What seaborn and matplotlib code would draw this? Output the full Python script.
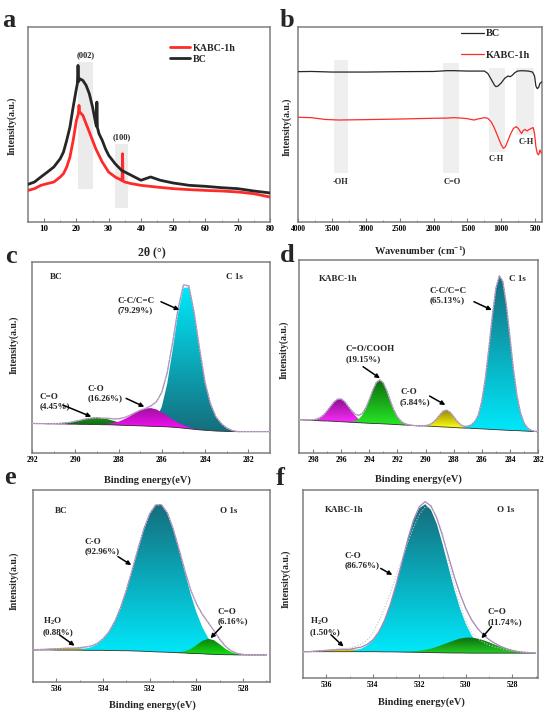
import numpy as np
import matplotlib
matplotlib.use("Agg")
import matplotlib.pyplot as plt
import seaborn as sns
from matplotlib.colors import LinearSegmentedColormap
from matplotlib.patches import Rectangle
from matplotlib.path import Path
from matplotlib.ticker import MultipleLocator, AutoMinorLocator, NullLocator

# ---------------- (a) XRD ----------------
XRD_BC_2THETA = [5, 7, 9, 11, 13, 15, 16, 17, 18, 19, 20, 20.3, 20.5, 20.7, 21, 22, 23, 24, 25, 26,
                 26.2, 26.35, 26.5, 27, 28, 29, 30, 32, 34, 36, 38, 40, 43, 46, 50, 55, 60, 65, 70, 75, 80]
XRD_BC_INT = [19.3, 20.5, 23.1, 25.6, 28.2, 32.5, 35.9, 41.9, 48.7, 59.0, 68.4, 71.0, 80.3, 72.0, 73.5,
              72.6, 70.1, 65.8, 59.0, 50.4, 49.0, 61.5, 48.5, 45.3, 41.9, 37.6, 34.2, 29.9, 26.5, 24.8,
              23.1, 21.4, 23.1, 21.4, 20.0, 18.8, 18.3, 17.6, 17.1, 15.9, 14.9]
XRD_K_2THETA = [5, 7, 9, 11, 13, 15, 16, 17, 18, 19, 20, 20.6, 20.8, 21.0, 22, 23, 24, 25, 26, 27,
                28, 29, 30, 32, 34, 34.15, 34.3, 34.45, 35, 37, 40, 45, 50, 55, 60, 65, 70, 75, 80]
XRD_K_INT = [16.2, 17.1, 18.8, 19.7, 20.5, 23.1, 24.8, 28.2, 33.3, 41.9, 52.1, 55.5, 59.8, 56.4, 54.7,
             50.4, 46.2, 41.9, 37.6, 34.2, 30.8, 28.2, 25.6, 23.1, 21.4, 21.2, 35.0, 21.0, 20.5, 19.7,
             18.8, 17.9, 17.1, 16.6, 16.2, 15.9, 15.4, 14.5, 12.8]
XRD_PEAKS = ["(002)", "(100)"]
XRD_BAND_LO = [20.5, 31.9]
XRD_BAND_HI = [25.2, 36.1]
XRD_BAND_BOTTOM = [17.1, 7.4]
XRD_BAND_TOP = [82.1, 39.8]

# ---------------- (b) FTIR ----------------
FTIR_BC_W = [4000, 3800, 3500, 3000, 2500, 2000, 1800, 1700, 1500, 1300, 1250, 1200, 1150, 1100, 1080,
             1050, 1000, 950, 900, 870, 840, 800, 760, 700, 600, 540, 510, 490, 470, 450, 430, 400]
FTIR_BC_T = [77.1, 77.2, 76.9, 76.9, 77.1, 77.2, 77.6, 77.6, 77.4, 77.4, 77.4, 76.2, 73.2, 70.1, 69.4,
             69.7, 71.4, 73.7, 74.9, 74.5, 75.2, 76.6, 77.4, 77.6, 77.4, 76.9, 74.9, 69.7, 68.4, 69.0,
             71.1, 71.9]
FTIR_K_W = [4000, 3800, 3600, 3400, 3000, 2500, 2000, 1800, 1700, 1600, 1500, 1450, 1400, 1350, 1250,
            1200, 1150, 1100, 1050, 1000, 970, 940, 900, 860, 820, 780, 750, 720, 700, 680, 650, 620,
            600, 560, 530, 510, 490, 470, 450, 430, 410]
FTIR_K_T = [53.7, 53.5, 52.6, 52.3, 52.5, 52.8, 53.2, 53.3, 53.5, 53.3, 53.0, 52.6, 52.3, 52.8, 53.5,
            53.2, 51.4, 48.0, 43.7, 39.5, 37.8, 38.6, 42.0, 45.4, 48.0, 48.9, 48.0, 46.3, 45.4, 46.8,
            47.5, 46.7, 47.2, 48.0, 48.4, 45.4, 38.6, 35.2, 34.4, 36.9, 35.2]
FTIR_BANDS = ["-OH", "C=O", "C-H", "C-H"]
FTIR_BAND_LO = [3255, 1618, 943, 524]
FTIR_BAND_HI = [3472, 1865, 1180, 780]
FTIR_BAND_BOTTOM = [25.3, 25.3, 36.0, 44.5]
FTIR_BAND_TOP = [83.1, 81.7, 78.8, 78.8]

# ---------------- (c) C 1s, BC ----------------
XPS_C_ENERGY = np.linspace(292, 281, 45)
XPS_C_BG = [15.5, 15.4, 15.4, 15.3, 15.3, 15.2, 15.2, 15.1, 15.1, 15.0, 15.0, 14.9, 14.9, 14.8, 14.8,
            14.7, 14.6, 14.5, 14.4, 14.3, 14.2, 14.1, 14.0, 13.9, 13.8, 13.7, 13.5, 13.3, 13.0, 12.7,
            12.4, 12.1, 11.9, 11.7, 11.5, 11.4, 11.3, 11.2, 11.2, 11.2, 11.2, 11.2, 11.2, 11.2, 11.2]
XPS_C_CO2 = [0] * 4 + [0.1, 0.25, 0.5, 0.9, 1.5, 2.2, 2.9, 3.4, 3.6, 3.4, 2.9, 2.2, 1.5, 0.9, 0.5,
                       0.25, 0.1] + [0] * 24
XPS_C_CO = [0] * 14 + [0.5, 1.0, 1.8, 3.1, 4.7, 6.5, 8.1, 9.2, 9.5, 8.9, 7.5, 5.8, 4.0, 2.5, 1.5, 0.8,
                       0.35, 0.15] + [0] * 13
XPS_C_CC = [0] * 22 + [1.2, 4.0, 10.5, 22.6, 40.4, 59.7, 73.5, 74.0, 60.4, 42.0, 25.0, 14.0, 7.5, 4.0,
                       1.8, 0.6, 0.0] + [0] * 6

# ---------------- (d) C 1s, KABC-1h ----------------
XPS_D_ENERGY = np.linspace(299, 282, 69)
XPS_D_BG = [17.3, 17.2, 17.1, 17.0, 16.9, 16.8, 16.7, 16.6, 16.6, 16.5, 16.4, 16.3, 16.2, 16.1, 16.0,
            15.9, 15.8, 15.7, 15.6, 15.5, 15.4, 15.3, 15.3, 15.2, 15.1, 15.0, 14.9, 14.8, 14.7, 14.6,
            14.5, 14.4, 14.3, 14.2, 14.1, 14.1, 14.0, 13.9, 13.8, 13.7, 13.6, 13.5, 13.4, 13.3, 13.2,
            13.1, 13.0, 12.9, 12.9, 12.8, 12.7, 12.6, 12.5, 12.4, 12.3, 12.2, 12.1, 12.0, 11.9, 11.8,
            11.7, 11.6, 11.6, 11.5, 11.4, 11.3, 11.2, 11.1, 11.0]
XPS_D_SAT = [0] * 3 + [0.1, 0.3, 0.7, 1.6, 3.1, 5.2, 7.7, 10.1, 11.6, 11.8, 10.5, 8.2, 5.7, 3.5, 1.9,
                       0.9, 0.4, 0.15, 0.05] + [0] * 47
XPS_D_COOH = [0] * 15 + [0.3, 0.75, 1.9, 4.0, 7.4, 12.1, 17.2, 21.2, 22.7, 21.2, 17.2, 12.1, 7.4, 4.0,
                         1.9, 0.75, 0.3, 0.1] + [0] * 36
XPS_D_CO = [0] * 36 + [0.2, 0.7, 1.8, 3.6, 6.0, 8.1, 8.8, 7.8, 5.6, 3.3, 1.6, 0.6, 0.2] + [0] * 20
XPS_D_CC = [0] * 47 + [0.3, 0.8, 1.8, 3.5, 6.9, 14.3, 26.0, 41.7, 58.8, 73.1, 79.9, 77.0, 65.0, 48.6,
                       31.9, 18.4, 9.4, 4.2, 1.7, 0.6, 0.2, 0.05]

# ---------------- (e) O 1s, BC ----------------
XPS_E_ENERGY = np.linspace(537, 527, 41)
XPS_E_BG = [16.7, 16.7, 16.7, 16.7, 16.6, 16.6, 16.6, 16.6, 16.6, 16.5, 16.5, 16.5, 16.5, 16.4, 16.4,
            16.3, 16.3, 16.2, 16.1, 16.0, 15.9, 15.7, 15.6, 15.5, 15.4, 15.2, 15.1, 14.9, 14.8, 14.7,
            14.5, 14.4, 14.3, 14.2, 14.2, 14.1, 14.1, 14.1, 14.1, 14.1, 14.1]
XPS_E_H2O = [0] + [0.2, 0.3, 0.5, 0.7, 0.85, 1.0, 1.0, 0.9, 0.8, 0.6, 0.4, 0.3, 0.15, 0.1] + [0] * 26
XPS_E_CO = [0] * 8 + [0.4, 0.9, 1.7, 3.2, 5.7, 9.5, 15.0, 22.4, 31.7, 42.3, 53.4, 63.8, 71.8, 76.5,
                      76.8, 72.7, 64.5, 53.9, 42.2, 31.0, 21.5, 13.9, 8.5, 4.9, 2.6, 1.3, 0.6, 0.3,
                      0.1] + [0] * 4
XPS_E_CO2 = [0] * 25 + [0.3, 0.9, 2.2, 4.4, 6.7, 8.0, 7.4, 5.3, 3.0, 1.3, 0.45, 0.15, 0.05] + [0] * 3

# ---------------- (f) O 1s, KABC-1h ----------------
XPS_F_ENERGY = np.linspace(537, 527, 41)
XPS_F_BG = [14.0] * 13 + [13.95, 13.9, 13.9, 13.85, 13.8, 13.75, 13.7, 13.65, 13.6, 13.5, 13.45, 13.4,
                          13.35, 13.3, 13.3, 13.25] + [13.2] * 12
XPS_F_H2O = [0] * 2 + [0.3, 0.5, 0.7, 1.0, 1.2, 1.3, 1.25, 1.1, 0.85, 0.6, 0.35, 0.2, 0.1] + [0] * 26
XPS_F_CO = [0] * 9 + [0.8, 1.6, 3.2, 5.9, 10.2, 16.6, 25.2, 35.8, 47.8, 59.7, 69.9, 76.7, 78.8, 75.9,
                      68.5, 57.8, 45.8, 34.0, 23.7, 15.4, 9.4, 5.4, 2.9, 1.4, 0.7, 0.3, 0.1] + [0] * 5
XPS_F_CO2 = [0] * 17 + [0.1, 0.25, 0.5, 0.8, 1.4, 2.1, 3.1, 4.3, 5.5, 6.7, 7.7, 8.2, 8.3, 7.8, 6.9,
                        5.8, 4.5, 3.3, 2.3, 1.5, 0.9, 0.5, 0.3, 0.15]
XPS_F_RAW = [14.0, 14.0, 14.3, 14.5, 14.7, 15.0, 15.3, 15.6, 16.0, 16.8, 18.0, 20.0, 24.0, 30.0, 37.0,
             45.0, 54.0, 63.0, 72.0, 80.0, 87.0, 91.0, 91.0, 86.0, 77.0, 62.0, 50.0, 39.0, 30.0, 24.0,
             21.0, 19.0, 17.5, 16.5, 15.8, 15.0, 14.5, 14.0, 13.7, 13.5, 13.3]

# ---------------- style ----------------
sns.set_theme(style="white")
plt.rcParams["font.family"] = ["Liberation Serif", "DejaVu Serif"]
plt.rcParams["font.weight"] = "bold"
plt.rcParams["mathtext.fontset"] = "custom"
plt.rcParams["mathtext.rm"] = "Liberation Serif:bold"
plt.rcParams["mathtext.it"] = "Liberation Serif:bold"
plt.rcParams["mathtext.bf"] = "Liberation Serif:bold"

FRAME = "#7f7f7f"
CYAN = ("#156d7c", "#00e9fb")
MAGENTA = ("#8c0e8c", "#ff2cff")
GREEN = ("#0c6a0c", "#27e827")
YELLOW = ("#9a8a00", "#ffff14")
ENVELOPE = "#a783b8"
ANNOT_SIZE = 6.5

fig = plt.figure(figsize=(5.5, 7.19), dpi=100)
W, H = 550.0, 719.0


def px_axes(left, top, right, bottom):
    return fig.add_axes([left / W, 1 - bottom / H, (right - left) / W, (bottom - top) / H])


def fig_text(x, y, s, **kw):
    fig.text(x / W, 1 - y / H, s, **kw)


def style_axes(ax, xlim, major, tick_size, pad=2.5):
    ax.set_xlim(*xlim)
    ax.set_ylim(0, 100)
    ax.xaxis.set_major_locator(MultipleLocator(major))
    ax.xaxis.set_minor_locator(AutoMinorLocator(2))
    ax.yaxis.set_major_locator(NullLocator())
    ax.tick_params(axis="x", which="both", direction="in", bottom=True, top=False,
                   color=FRAME, labelcolor="black", labelsize=tick_size, pad=pad)
    ax.tick_params(axis="x", which="major", length=3, width=0.8)
    ax.tick_params(axis="x", which="minor", length=1.6, width=0.6)
    for s in ax.spines.values():
        s.set_color(FRAME)
        s.set_linewidth(1.1)
    ax.set_xlabel("")
    ax.set_ylabel("")


def gradient_fill(ax, x, base, comp, colors, z, reverse=False):
    comp = np.asarray(comp, float)
    upper = base + comp
    mask = comp > 0
    y0, y1 = base[mask].min(), upper[mask].max()
    top_c, bottom_c = colors if not reverse else colors[::-1]
    verts = np.column_stack([np.r_[x, x[::-1]], np.r_[upper, base[::-1]]])
    verts = np.vstack([verts, verts[:1]])
    path = Path(verts, closed=True)
    cmap = LinearSegmentedColormap.from_list("g", [bottom_c, top_c])
    im = ax.imshow(np.linspace(0, 1, 256).reshape(-1, 1), cmap=cmap, aspect="auto",
                   origin="lower", extent=(x.min(), x.max(), y0, y1), zorder=z,
                   interpolation="bilinear")
    im.set_clip_path(path, transform=ax.transData)


def draw_xps(ax, energy, background, comps, raw=None):
    bg = np.asarray(background, float)
    total = bg.copy()
    for z, (values, colors, reverse) in enumerate(comps):
        gradient_fill(ax, energy, bg, values, colors, 2 + z, reverse)
        total += np.asarray(values, float)
    sns.lineplot(x=energy, y=bg, ax=ax, color="#303030", lw=0.6, zorder=6, legend=False, sort=False)
    sns.lineplot(x=energy, y=total, ax=ax, color=ENVELOPE, lw=0.9, zorder=7, legend=False, sort=False)
    raw = total if raw is None else np.asarray(raw, float)
    ax.plot(energy, raw, color="#c4c4c4", ls=(0, (1, 1.6)), lw=0.8, zorder=8)


def annotate(ax, texts, arrows):
    for s, x, y, ha in texts:
        ax.text(x, y, s, ha=ha, va="center", fontsize=ANNOT_SIZE, linespacing=1.25, zorder=10)
    for (x0, y0), (x1, y1) in arrows:
        ax.annotate("", xy=(x1, y1), xytext=(x0, y0), zorder=10,
                    arrowprops=dict(arrowstyle="-|>", color="black", lw=1.1, mutation_scale=6,
                                    shrinkA=0, shrinkB=0))


# ---- panel a ----
ax = px_axes(28, 27, 270, 222)
for lo, hi, b, t in zip(XRD_BAND_LO, XRD_BAND_HI, XRD_BAND_BOTTOM, XRD_BAND_TOP):
    ax.add_patch(Rectangle((lo, b), hi - lo, t - b, color="#e6e6e6", alpha=0.8, lw=0, zorder=1))
sns.lineplot(x=XRD_K_2THETA, y=XRD_K_INT, ax=ax, color="#ff2a2a", lw=2.0, label="KABC-1h",
             sort=False, zorder=3)
sns.lineplot(x=XRD_BC_2THETA, y=XRD_BC_INT, ax=ax, color="#262626", lw=2.0, label="BC",
             sort=False, zorder=4)
for name, lo, hi, t in zip(XRD_PEAKS, XRD_BAND_LO, XRD_BAND_HI, XRD_BAND_TOP):
    ax.text((lo + hi) / 2, t + 3.6, name, ha="center", va="center", fontsize=6)
h, l = ax.get_legend_handles_labels()
ax.legend(h, l, loc="upper left", bbox_to_anchor=(0.585, 0.915), frameon=False, fontsize=7.2,
          handlelength=2.0, handletextpad=0.35, labelspacing=0.2, borderpad=0, borderaxespad=0)
style_axes(ax, (5, 80), 10, 6.5)

# ---- panel b ----
ax = px_axes(298, 27, 542, 222)
for lo, hi, b, t in zip(FTIR_BAND_LO, FTIR_BAND_HI, FTIR_BAND_BOTTOM, FTIR_BAND_TOP):
    ax.add_patch(Rectangle((lo, b), hi - lo, t - b, color="#ececec", alpha=0.8, lw=0, zorder=1))
sns.lineplot(x=FTIR_BC_W, y=FTIR_BC_T, ax=ax, color="#262626", lw=0.9, label="BC", sort=False, zorder=3)
sns.lineplot(x=FTIR_K_W, y=FTIR_K_T, ax=ax, color="#ff2a2a", lw=0.9, label="KABC-1h", sort=False, zorder=3)
for name, (x, y) in zip(FTIR_BANDS, [(3369, 20.7), (1727, 20.7), (1076, 32.5), (627, 41.2)]):
    ax.text(x, y, name, ha="center", va="center", fontsize=6)
h, l = ax.get_legend_handles_labels()
ax.legend(h, l, loc="upper left", bbox_to_anchor=(0.668, 0.99), frameon=False, fontsize=7.5,
          handlelength=2.2, handletextpad=0.15, labelspacing=1.15, borderpad=0, borderaxespad=0)
style_axes(ax, (4000, 400), 500, 5.5, pad=2)

# ---- panel c ----
ax = px_axes(32, 262, 270, 453)
draw_xps(ax, XPS_C_ENERGY, XPS_C_BG, [
    (XPS_C_CC, CYAN, True),
    (XPS_C_CO2, (GREEN[0], "#1f8f1f"), True),
    (XPS_C_CO, ("#a010a0", "#ff10ff"), False),
])
annotate(ax,
         [("BC", 290.88, 92.0, "center"), ("C 1s", 282.66, 92.0, "center"),
          ("C-C/C=C\n(79.29%)", 288.05, 77.0, "left"),
          ("C-O\n(16.26%)", 289.43, 31.2, "left"),
          ("C=O\n(4.45%)", 291.67, 26.9, "left")],
         [((286.04, 79.2), (285.19, 74.9)), ((287.65, 28.6), (286.81, 24.2)),
          ((290.57, 25.1), (289.26, 19.0))])
style_axes(ax, (292, 281), 2, 5.5)

# ---- panel d ----
ax = px_axes(299, 260, 538, 453)
draw_xps(ax, XPS_D_ENERGY, XPS_D_BG, [
    (XPS_D_SAT, MAGENTA, False),
    (XPS_D_COOH, GREEN, False),
    (XPS_D_CO, YELLOW, False),
    (XPS_D_CC, CYAN, False),
])
annotate(ax,
         [("KABC-1h", 297.61, 90.2, "left"), ("C 1s", 283.48, 90.2, "center"),
          ("C-C/C=C\n(65.13%)", 289.73, 81.6, "left"),
          ("C=O/COOH\n(19.15%)", 295.71, 51.2, "left"),
          ("C-O\n(5.84%)", 291.81, 28.9, "left")],
         [((286.56, 78.4), (285.29, 74.1)), ((294.44, 44.7), (293.24, 38.7)),
          ((289.71, 29.5), (288.59, 24.9))])
style_axes(ax, (299, 282), 2, 5.5)

# ---- panel e ----
ax = px_axes(33, 490, 270, 682)
draw_xps(ax, XPS_E_ENERGY, XPS_E_BG, [
    (XPS_E_H2O, YELLOW, False),
    (XPS_E_CO, CYAN, False),
    (XPS_E_CO2, ("#0f7a0f", "#12e012"), False),
])
annotate(ax,
         [("BC", 536.07, 89.1, "left"), ("O 1s", 528.61, 89.1, "center"),
          ("C-O\n(92.96%)", 534.79, 70.7, "left"),
          ("H$_{\\mathregular{2}}$O\n(0.88%)", 536.59, 29.0, "left"),
          ("C=O\n(6.16%)", 529.09, 34.2, "left")],
         [((533.36, 65.3), (532.79, 60.9)), ((535.86, 24.5), (535.22, 18.9)),
          ((528.93, 28.8), (529.40, 22.8))])
style_axes(ax, (537, 526.85), 2, 5.5)

# ---- panel f ----
ax = px_axes(303, 490, 538, 678)
draw_xps(ax, XPS_F_ENERGY, XPS_F_BG, [
    (XPS_F_H2O, YELLOW, False),
    (XPS_F_CO, CYAN, False),
    (XPS_F_CO2, ("#0e6a0e", "#22cc22"), False),
], raw=XPS_F_RAW)
annotate(ax,
         [("KABC-1h", 536.07, 89.4, "left"), ("O 1s", 528.30, 89.4, "center"),
          ("C-O\n(86.76%)", 535.21, 62.6, "left"),
          ("H$_{\\mathregular{2}}$O\n(1.50%)", 536.72, 27.5, "left"),
          ("C=O\n(11.74%)", 529.05, 32.4, "left")],
         [((533.66, 58.3), (533.16, 54.8)), ((535.79, 22.9), (535.26, 16.7)),
          ((528.90, 27.3), (529.33, 21.1))])
style_axes(ax, (537, 526.9), 2, 5.5)

# ---- labels ----
for letter, x, y in [("a", 2, 27), ("b", 280, 27), ("c", 5, 263), ("d", 280, 262),
                     ("e", 4, 484), ("f", 276, 485)]:
    fig_text(x, y, letter, fontsize=19, ha="left", va="baseline")

for s, x, y, size in [("2θ (°)", 152, 252, 8.5),
                      ("Wavenumber (cm$^{\\mathregular{-1}}$)", 420, 251, 7.5),
                      ("Binding energy(eV)", 147, 480, 7.5),
                      ("Binding energy(eV)", 418, 479, 7.5),
                      ("Binding energy(eV)", 152, 705, 7.5),
                      ("Binding energy(eV)", 421, 702, 7.5)]:
    fig_text(x, y, s, fontsize=size, ha="center", va="center")

for x, y in [(12, 126), (287, 127), (14, 345), (284, 350), (14, 581), (286, 579)]:
    fig_text(x, y, "Intensity(a.u.)", fontsize=7, rotation=90, ha="center", va="center")

fig.savefig("out.png", dpi=100)
